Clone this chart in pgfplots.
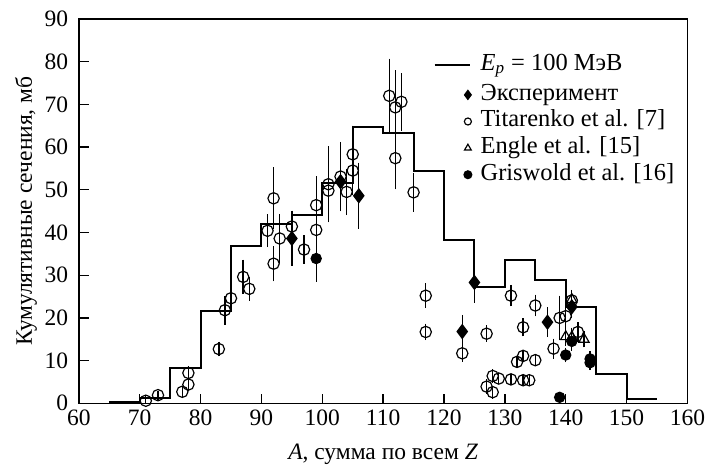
\documentclass[border=0pt]{standalone}
\usepackage{fontspec}
\setmainfont{Liberation Serif}
\usepackage{pgfplots}
\pgfplotsset{compat=1.18}
\usepackage{pgfplotstable}

\pgfplotstableread{
x y e
71 0.6 0.3
73 1.9 0.3
77 2.7 0.4
78 4.4 0.8
78 7.1 0.8
83 12.7 1.0
84 21.8 2.7
85 24.6 2.0
87 29.6 3.3
88 26.8 2.0
91 40.4 3.1
92 48.0 6.5
92 32.7 3.4
93 38.6 5.0
95 41.4 3.0
97 36.0 2.6
99 46.4 6.0
99 40.6 3.0
101 51.3 8.2
101 49.8 6.0
103 53.1 7.4
104 49.5 4.7
105 58.3 6.0
105 54.5 5.0
111 72.0 8.0
112 57.4 6.6
112 69.3 8.0
113 70.6 6.0
115 49.4 3.8
117 25.2 2.2
117 16.7 1.2
123 11.7 1.2
127 16.3 1.2
127 3.9 1.0
128 6.4 0.8
128 2.6 0.8
129 5.8 0.6
131 25.2 1.8
131 5.6 0.6
132 9.7 0.7
133 11.1 0.7
133 17.8 1.4
133 5.4 0.5
134 5.4 0.5
135 10.1 0.7
135 22.9 1.8
138 12.8 1.6
139 20.0 4.5
140 20.4 2.5
141 24.1 1.5
142 16.7 1.5
}\titarenko

\pgfplotstableread{
x y e
95 38.6 5.6
103 51.9 4.0
106 48.6 7.0
123 16.8 3.2
125 28.3 4.0
137 19.0 2.8
141 22.6 2.0
}\experiment

\pgfplotstableread{
x y e
141 24.3 1.5
140 15.6 1.5
141 15.5 1.5
143 15.0 1.2
}\engle

\pgfplotstableread{
x y e
99 33.9 4.7
139 1.4 0.5
140 11.3 1.0
141 14.5 1.5
144 9.5 1.0
144 10.4 1.0
}\griswold

\pgfplotsset{
  errstyle/.style={error bars/.cd, y dir=both, y explicit,
    error bar style={line width=0.7pt},
    error mark options={mark size=1.6pt, line width=0.7pt}, /pgfplots/.cd},
  legmark/.style={legend image code/.code={\draw[##1, mark size=#1] plot coordinates {(17pt,0pt)};}},
  legline/.style={legend image code/.code={\draw[black, line width=1pt] (0pt,0pt) -- (18pt,0pt);
      \path (0pt,-8pt) (0pt,0pt);}},
}

\begin{document}
\begin{tikzpicture}
\begin{axis}[
  name=ax,
  scale only axis,
  width=311pt, height=196.4pt,
  xmin=60, xmax=160, ymin=0, ymax=90,
  xtick={60,70,...,160}, ytick={0,10,...,90},
  tick pos=left, tick align=inside,
  major tick length=5pt,
  /pgf/number format/assume math mode=true,
  tick label style={font=\fontsize{12}{14}\selectfont},
  yticklabel style={xshift=-2pt},
  label style={font=\fontsize{12}{14}\selectfont},
  xlabel={\textit{A}, сумма по всем \textit{Z}},
  ylabel={Кумулятивные сечения, мб},
  xlabel style={at={([yshift=-26pt]axis description cs:0.5,0)}, anchor=center},
  ylabel style={at={([xshift=-27pt]axis description cs:0,0.5)}, anchor=center},
  axis line style={line width=0.7pt},
  every tick/.style={black, line width=0.7pt},
  legend style={draw=none, fill=none, inner sep=0pt, outer sep=0pt,
    at={(0.583,0.915)}, anchor=north west,
    font=\fontsize{12.5}{14}\selectfont,
    column sep=3pt,
    nodes={inner ysep=0pt, inner xsep=1.5pt, text height=9.5pt, text depth=4.1pt}},
  legend cell align=left,
]
\addplot[const plot, black, line width=1pt, legline]
  coordinates {
(65,0.4)(70,1.3)(75,8.2)(80,21.7)(85,36.8)(90,42.0)(95,44.2)(100,51.7)
(105,64.6)(110,63.2)(115,54.3)(120,38.3)(125,27.2)(130,33.6)(135,28.9)
(140,22.5)(145,6.85)(150,1.1)(155,1.1)};
\addlegendentry{\textit{E}\textsubscript{\textit{p}} = 100 МэВ}

\addplot[only marks, black, mark=diamond*, mark size=3.5pt, line width=0.6pt, legmark=2.3pt, errstyle]
  table[x=x, y=y, y error=e] {\experiment};
\addlegendentry{Эксперимент}

\addplot[only marks, black, mark=o, mark size=2.9pt, line width=0.6pt, legmark=1.8pt, errstyle]
  table[x=x, y=y, y error=e] {\titarenko};
\addlegendentry{Titarenko et al. [7]}

\addplot[only marks, black, mark=triangle, mark size=3pt, line width=0.6pt, legmark=2pt, errstyle]
  table[x=x, y=y, y error=e] {\engle};
\addlegendentry{Engle et al. [15]}

\addplot[only marks, black, mark=*, mark size=2.6pt, line width=0.6pt, legmark=2pt, errstyle]
  table[x=x, y=y, y error=e] {\griswold};
\addlegendentry{Griswold et al. [16]}
\end{axis}
\pgfresetboundingbox
\path ([xshift=-40.3pt,yshift=-33.2pt]ax.south west) rectangle ([xshift=10pt,yshift=9.7pt]ax.north east);
\end{tikzpicture}
\end{document}
